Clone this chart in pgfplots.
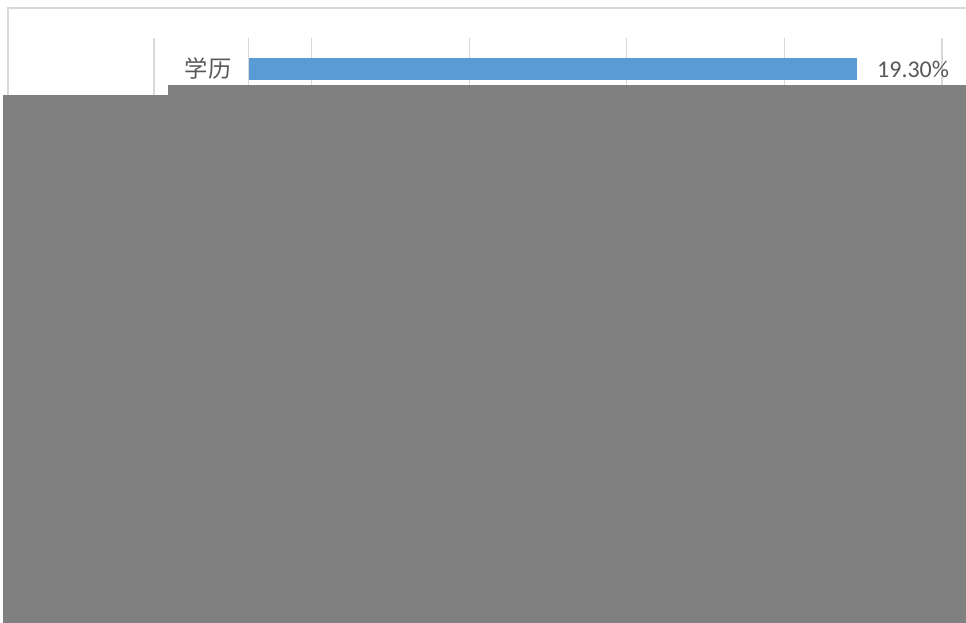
\documentclass[border=0pt]{standalone}
\usepackage{fontspec}
\setmainfont{Carlito}
\newfontfamily\cjk{Noto Sans CJK SC}
\usepackage{pgfplots}
\pgfplotsset{compat=1.18}
\definecolor{barblue}{HTML}{5B9BD5}
\definecolor{gridgray}{HTML}{D9D9D9}
\definecolor{txtgray}{HTML}{595959}
\definecolor{maskgray}{HTML}{808080}
\begin{document}
\begin{tikzpicture}
\useasboundingbox (0pt,0pt) rectangle (724.5pt,-467.25pt);
\fill[white] (0pt,0pt) rectangle (724.5pt,-467.25pt);
% chart frame
\draw[gridgray, line width=1.2pt] (6pt,-467.25pt) -- (6pt,-6pt) -- (724.5pt,-6pt);
\begin{axis}[
  at={(115.5pt,-28.5pt)}, anchor=north west,
  scale only axis, width=591pt, height=436.5pt,
  xmin=-3, xmax=22, ymin=38, ymax=620, y dir=reverse,
  xtick={-3,0,2,7,12,17,22}, xticklabels={},
  ytick=\empty,
  xmajorgrids, major grid style={gridgray, line width=0.9pt},
  axis line style={draw=none}, major tick length=0pt,
  clip=false,
]
\addplot[xbar, bar width=16.5pt, fill=barblue, draw=none,
  nodes near coords={\pgfmathprintnumber[fixed,fixed zerofill,precision=2,assume math mode=true]{\pgfplotspointmeta}\%},
  nodes near coords style={anchor=west, inner sep=0pt, xshift=15pt, font=\fontsize{18}{20}\selectfont, text=txtgray},
  point meta=x] coordinates {(19.3,69)};
\node[anchor=east, inner sep=0pt, text=txtgray, font=\cjk\fontsize{17.5}{20}\selectfont] at (axis cs:0,69) [xshift=-12.5pt] {学历};
\end{axis}
% occluding block as in the reference
\fill[maskgray] (2.25pt,-71.25pt) rectangle (724.5pt,-467.25pt);
\fill[maskgray] (126pt,-63.75pt) rectangle (724.5pt,-71.25pt);
\end{tikzpicture}
\end{document}
